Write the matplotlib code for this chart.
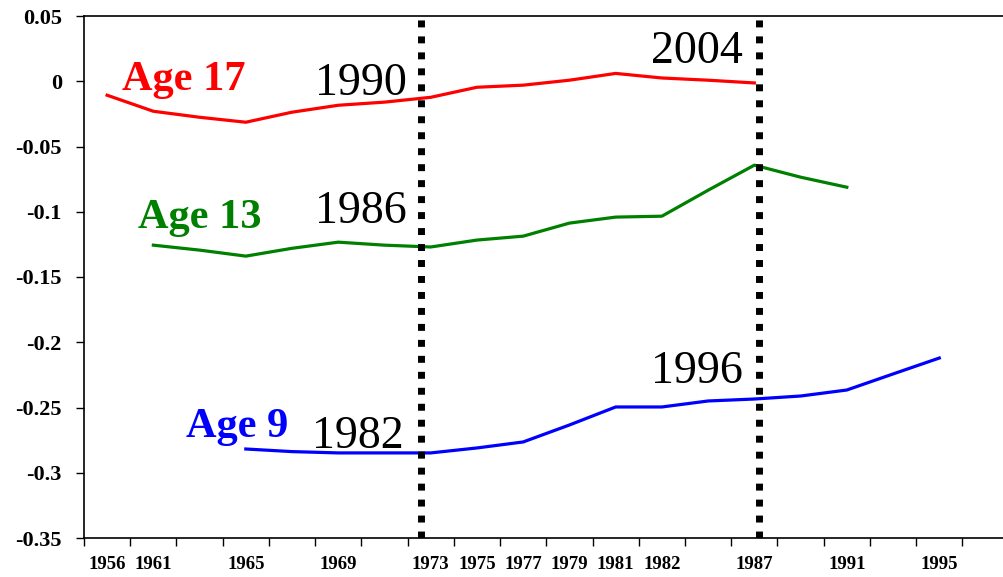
import matplotlib
matplotlib.use("Agg")
import matplotlib.pyplot as plt
import numpy as np

# etiquetas del eje x (una por categoría, algunas vacías como en el original)
anios = ['1956', '1961', '', '1965', '', '1969', '', '1973', '1975', '1977',
         '1979', '1981', '1982', '', '1987', '', '1991', '', '1995', '']

nan = np.nan
# Age 17 (categorías 0..14)
edad17 = [-0.0107, -0.023, -0.0276, -0.0314, -0.0237, -0.0184, -0.016, -0.0123,
          -0.0046, -0.003, 0.0008, 0.006, 0.0025, 0.0008, -0.0013,
          nan, nan, nan, nan, nan]
# Age 13 (categorías 1..16)
edad13 = [nan, -0.1256, -0.1294, -0.134, -0.128, -0.1233, -0.1256, -0.127,
          -0.1217, -0.1187, -0.1087, -0.1041, -0.1034, -0.0835, -0.0643,
          -0.0735, -0.0812, nan, nan, nan]
# Age 9 (categorías 3..18)
edad9 = [nan, nan, nan, -0.2818, -0.2838, -0.2848, -0.2848, -0.2848,
         -0.281, -0.2764, -0.2634, -0.2496, -0.2496, -0.245, -0.2435,
         -0.2412, -0.2366, -0.2243, -0.2121, nan]

# rótulos de años sobre las líneas punteadas
rotulos = ['1990', '1986', '1982', '2004', '1996']
rotulos_y = [-0.0107, -0.1087, -0.281, 0.0138, -0.2312]

plt.rcParams['font.family'] = ['Liberation Serif', 'DejaVu Serif']

fig = plt.figure(figsize=(10.04, 5.77), dpi=100)
ax = fig.add_axes([84 / 1004, 39 / 577, 920 / 1004, 522 / 577])

x = np.arange(len(anios))
ax.plot(x, edad17, color='#ff0000', lw=2.3)
ax.plot(x, edad13, color='#008000', lw=2.3)
ax.plot(x, edad9, color='#0000ff', lw=2.3)

# líneas verticales punteadas
for xv in [6.8, 14.1]:
    ax.axvline(xv, color='black', lw=5, linestyle=(0, (1.0, 1.3)),
               dash_capstyle='butt', zorder=3)

ax.set_xlim(-0.5, 19.4)
ax.set_ylim(-0.35, 0.05)

# nombres de las series
ax.text(0.32, -0.0069, 'Age 17', color='#ff0000', fontsize=30.5, fontweight='bold')
ax.text(0.67, -0.1126, 'Age 13', color='#008000', fontsize=30.5, fontweight='bold')
ax.text(1.71, -0.2726, 'Age 9', color='#0000ff', fontsize=30.5, fontweight='bold')

rot_x = [6.48, 6.48, 6.41, 13.76, 13.76]
for t, xx, yy in zip(rotulos, rot_x, rotulos_y):
    ax.text(xx, yy, t, fontsize=33, ha='right', va='baseline', color='black')

# ejes
ax.set_xticks(x)
ax.set_xticklabels(anios, fontsize=13.5, fontweight='bold')
ax.set_xticks(np.arange(len(anios)) - 0.5, minor=True)
ax.tick_params(axis='x', which='major', length=0, pad=13)
ax.tick_params(axis='x', which='minor', length=6, width=1, direction='out')

ax.set_yticks([0.05, 0, -0.05, -0.1, -0.15, -0.2, -0.25, -0.3, -0.35])
ax.set_yticklabels(['0.05', '0', '-0.05', '-0.1', '-0.15', '-0.2', '-0.25', '-0.3', '-0.35'],
                   fontsize=16, fontweight='bold')
ax.tick_params(axis='y', length=6, width=1, direction='out', pad=10)

for lado in ['left', 'bottom', 'top']:
    ax.spines[lado].set_linewidth(1.2)
ax.spines['right'].set_visible(False)

fig.savefig('out.png', dpi=100)
